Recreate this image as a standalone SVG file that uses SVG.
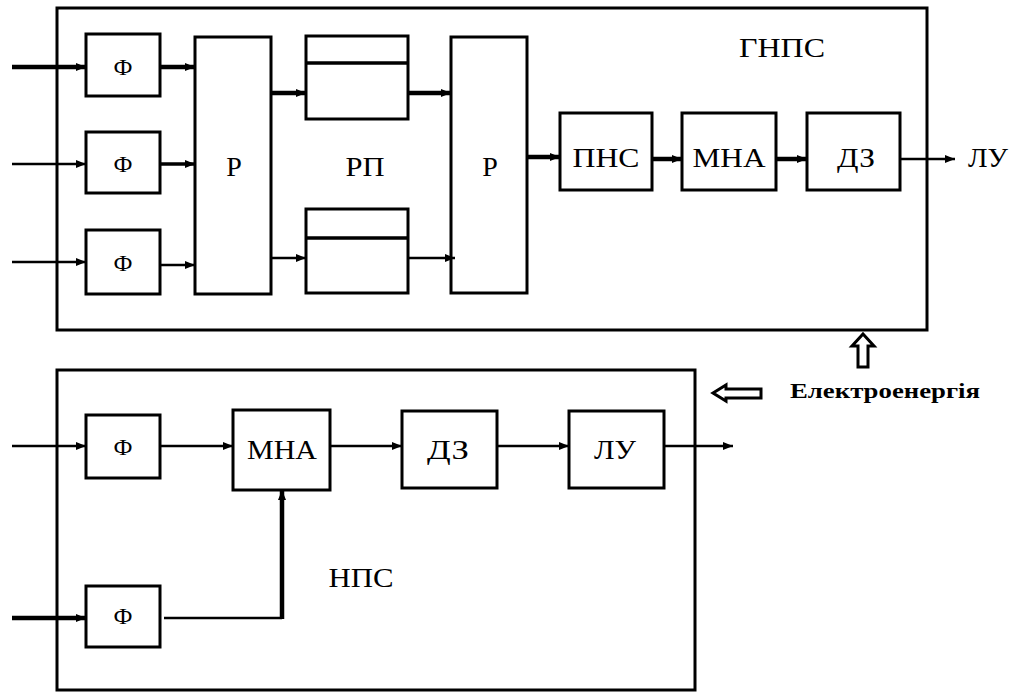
<svg xmlns="http://www.w3.org/2000/svg" width="1019" height="692" viewBox="0 0 1019 692">
<defs>
<style>
.frame{fill:none;stroke:#000;stroke-width:3}
.box{fill:#fff;stroke:#000;stroke-width:3}
.ln{fill:none;stroke:#000;stroke-width:2.5}
.th{stroke-width:4.5}
.md{stroke-width:3.5}
.lbl{font-family:"Liberation Serif","Times New Roman",serif;font-size:28px;fill:#000;text-anchor:middle}
.f{font-size:24px}
.hollow{fill:#fff;stroke:#000;stroke-width:3;stroke-linejoin:miter}
.en{font-family:"Liberation Serif","Times New Roman",serif;font-size:20px;font-weight:bold;fill:#000}
</style>
<marker id="ah" viewBox="0 0 10 8" refX="10" refY="4" markerWidth="10" markerHeight="8" markerUnits="userSpaceOnUse" orient="auto">
<path d="M0,0 L10,4 L0,8 z" fill="#000"/>
</marker>
</defs>
<rect width="1019" height="692" fill="#fff"/>

<g id="gnps-frame">
<rect class="frame" x="57" y="8" width="870" height="322"/>
<text class="lbl" x="782" y="57" textLength="86" lengthAdjust="spacingAndGlyphs">ГНПС</text>
</g>
<g id="nps-frame">
<rect class="frame" x="57" y="370" width="638" height="320"/>
<text class="lbl" x="361" y="587" textLength="65" lengthAdjust="spacingAndGlyphs">НПС</text>
</g>

<g id="t-f1"><rect class="box" x="86" y="34" width="74" height="62"/><text class="lbl f" x="123" y="75">Ф</text></g>
<g id="t-f2"><rect class="box" x="86" y="132" width="74" height="61"/><text class="lbl f" x="123" y="172">Ф</text></g>
<g id="t-f3"><rect class="box" x="86" y="230" width="74" height="64"/><text class="lbl f" x="123" y="271">Ф</text></g>
<g id="t-r1"><rect class="box" x="195" y="37" width="76" height="257"/><text class="lbl" x="234" y="176">Р</text></g>
<g id="t-rp-top"><rect class="box" x="306" y="36" width="102" height="83"/><line class="ln md" x1="306" y1="63" x2="408" y2="63"/></g>
<g id="t-rp-bot"><rect class="box" x="306" y="209" width="102" height="84"/><line class="ln md" x1="306" y1="238" x2="408" y2="238"/></g>
<g id="t-rp-label"><text class="lbl" x="365" y="176" textLength="39" lengthAdjust="spacingAndGlyphs">РП</text></g>
<g id="t-r2"><rect class="box" x="451" y="37" width="76" height="256"/><text class="lbl" x="490" y="176">Р</text></g>
<g id="t-pns"><rect class="box" x="560" y="113" width="92" height="77"/><text class="lbl" x="606" y="167" textLength="67" lengthAdjust="spacingAndGlyphs">ПНС</text></g>
<g id="t-mna"><rect class="box" x="682" y="113" width="94" height="77"/><text class="lbl" x="729" y="167" textLength="73" lengthAdjust="spacingAndGlyphs">МНА</text></g>
<g id="t-dz"><rect class="box" x="807" y="113" width="93" height="77"/><text class="lbl" x="856" y="167" textLength="38" lengthAdjust="spacingAndGlyphs">ДЗ</text></g>
<g id="t-lu"><text class="lbl" x="988" y="167" textLength="40" lengthAdjust="spacingAndGlyphs">ЛУ</text></g>

<g id="b-f1"><rect class="box" x="86" y="415" width="74" height="63"/><text class="lbl f" x="123" y="455">Ф</text></g>
<g id="b-f2"><rect class="box" x="86" y="586" width="74" height="61"/><text class="lbl f" x="123" y="624">Ф</text></g>
<g id="b-mna"><rect class="box" x="233" y="410" width="97" height="80"/><text class="lbl" x="282" y="459" textLength="70" lengthAdjust="spacingAndGlyphs">МНА</text></g>
<g id="b-dz"><rect class="box" x="402" y="411" width="95" height="77"/><text class="lbl" x="448" y="459" textLength="42" lengthAdjust="spacingAndGlyphs">ДЗ</text></g>
<g id="b-lu"><rect class="box" x="569" y="411" width="95" height="77"/><text class="lbl" x="615" y="459" textLength="42" lengthAdjust="spacingAndGlyphs">ЛУ</text></g>

<g id="energy">
<polygon class="hollow" points="863,334 874,346 868,346 868,367 858,367 858,346 852,346"/>
<polygon class="hollow" points="713,393 726,385 726,389 761,389 761,398 726,398 726,401"/>
<text class="en" x="790" y="398" textLength="190" lengthAdjust="spacingAndGlyphs">Електроенергія</text>
</g>

<g id="connectors">
<line class="ln th" x1="12" y1="67" x2="86" y2="67" marker-end="url(#ah)"/>
<line class="ln" x1="12" y1="164" x2="86" y2="164" marker-end="url(#ah)"/>
<line class="ln" x1="12" y1="262" x2="86" y2="262" marker-end="url(#ah)"/>
<line class="ln th" x1="160" y1="67" x2="195" y2="67" marker-end="url(#ah)"/>
<line class="ln md" x1="160" y1="164" x2="195" y2="164" marker-end="url(#ah)"/>
<line class="ln" x1="160" y1="265" x2="195" y2="265" marker-end="url(#ah)"/>
<line class="ln th" x1="271" y1="93" x2="306" y2="93" marker-end="url(#ah)"/>
<line class="ln" x1="271" y1="258" x2="306" y2="258" marker-end="url(#ah)"/>
<line class="ln th" x1="408" y1="93" x2="451" y2="93" marker-end="url(#ah)"/>
<line class="ln" x1="408" y1="258" x2="455" y2="258" marker-end="url(#ah)"/>
<line class="ln th" x1="527" y1="157" x2="560" y2="157" marker-end="url(#ah)"/>
<line class="ln th" x1="652" y1="159" x2="682" y2="159" marker-end="url(#ah)"/>
<line class="ln th" x1="776" y1="159" x2="807" y2="159" marker-end="url(#ah)"/>
<line class="ln" x1="900" y1="159" x2="955" y2="159" marker-end="url(#ah)"/>

<line class="ln" x1="12" y1="446" x2="86" y2="446" marker-end="url(#ah)"/>
<line class="ln th" x1="12" y1="618" x2="86" y2="618" marker-end="url(#ah)"/>
<line class="ln" x1="160" y1="446" x2="233" y2="446" marker-end="url(#ah)"/>
<path class="ln" d="M164,618 H282"/>
<line class="ln th" x1="282" y1="619" x2="282" y2="490" marker-end="url(#ah)"/>
<line class="ln" x1="330" y1="446" x2="402" y2="446" marker-end="url(#ah)"/>
<line class="ln" x1="497" y1="446" x2="569" y2="446" marker-end="url(#ah)"/>
<line class="ln" x1="664" y1="446" x2="733" y2="446" marker-end="url(#ah)"/>
</g>
</svg>
